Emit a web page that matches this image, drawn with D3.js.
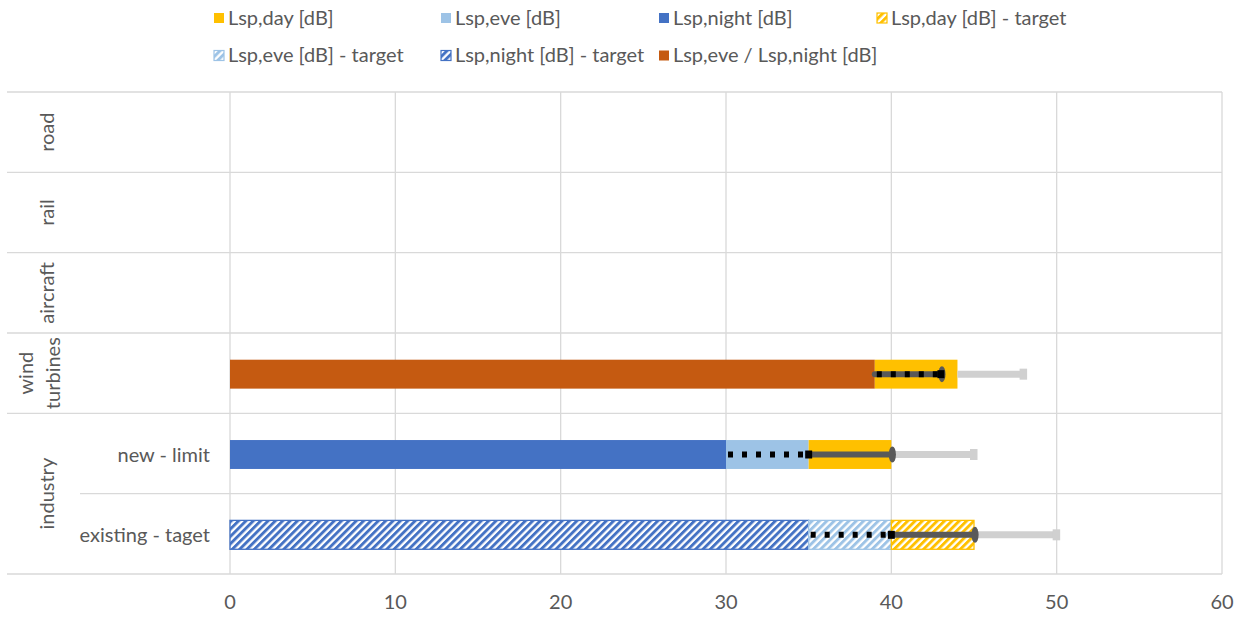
<!DOCTYPE html>
<html>
<head>
<meta charset="utf-8">
<script src="https://cdn.jsdelivr.net/npm/d3@7"></script>
<style>
  body { margin: 0; background: #fff; }
  text { font-family: Lato, "Open Sans", sans-serif; fill: #595959; font-size: 20px; }
</style>
</head>
<body>
<div id="chart"></div>
<script>
const groups = ['road', 'rail', 'aircraft', 'wind turbines', 'industry', 'industry'];
const subLabels = ['', '', '', '', 'new - limit', 'existing - taget'];

// stacked bar series (drawing order left to right)
const eveNight = [0, 0, 0, 39, 0, 0];
const night = [0, 0, 0, 0, 30, 0];
const nightTarget = [0, 0, 0, 0, 0, 35];
const eve = [0, 0, 0, 0, 5, 0];
const eveTarget = [0, 0, 0, 0, 0, 5];
const day = [0, 0, 0, 5, 5, 0];
const dayTarget = [0, 0, 0, 0, 0, 5];

// error lines [from, to]
const errDotted = [null, null, null, [39, 43], [30, 35], [35, 40]];
const errDark = [null, null, null, [39, 43], [35, 40], [40, 45]];
const errLight = [null, null, null, [44, 48], [40, 45], [45, 50]];

const xTicks = [0, 10, 20, 30, 40, 50, 60];

const legendRow1 = ['Lsp,day [dB]', 'Lsp,eve [dB]', 'Lsp,night [dB]', 'Lsp,day [dB] - target'];
const legendRow2 = ['Lsp,eve [dB] - target', 'Lsp,night [dB] - target', 'Lsp,eve / Lsp,night [dB]'];

const W = 1247, H = 619;
const plotLeft = 230, plotRight = 1222, plotTop = 92, plotBottom = 574;

const series = [
  { key: 'eveNight', values: eveNight, color: '#C55A11', hatch: false },
  { key: 'night', values: night, color: '#4472C4', hatch: false },
  { key: 'nightTarget', values: nightTarget, color: '#4472C4', hatch: true },
  { key: 'eve', values: eve, color: '#9DC3E6', hatch: false },
  { key: 'eveTarget', values: eveTarget, color: '#9DC3E6', hatch: true },
  { key: 'day', values: day, color: '#FFC000', hatch: false },
  { key: 'dayTarget', values: dayTarget, color: '#FFC000', hatch: true }
];

const table = groups.map((g, i) => {
  const row = { i };
  series.forEach(s => row[s.key] = s.values[i]);
  return row;
});

const stacked = d3.stack().keys(series.map(s => s.key))(table);

const x = d3.scaleLinear().domain([0, 60]).range([plotLeft, plotRight]);
const y = d3.scaleBand().domain(d3.range(groups.length)).range([plotTop, plotBottom]);

const svg = d3.select('#chart').append('svg')
  .attr('width', W).attr('height', H);

const defs = svg.append('defs');
const hp = 5.2;
series.filter(s => s.hatch).forEach(s => {
  const p = defs.append('pattern')
    .attr('id', 'hatch-' + s.key)
    .attr('patternUnits', 'userSpaceOnUse')
    .attr('width', hp).attr('height', hp)
    .attr('patternTransform', 'rotate(45)');
  p.append('rect').attr('width', hp).attr('height', hp).attr('fill', '#fff');
  p.append('rect').attr('width', 2.9).attr('height', hp).attr('fill', s.color);
});

// vertical gridlines
svg.append('g').selectAll('line')
  .data(xTicks)
  .join('line')
  .attr('x1', d => x(d)).attr('x2', d => x(d))
  .attr('y1', plotTop).attr('y2', plotBottom)
  .attr('stroke', '#D9D9D9').attr('stroke-width', 1.3);

// horizontal row lines
const rowLines = [];
groups.forEach((g, i) => {
  const sameAsPrev = i > 0 && groups[i - 1] === g;
  rowLines.push({ y: y(i), x1: sameAsPrev ? 80 : 7 });
});
rowLines.push({ y: plotBottom, x1: 7 });
svg.append('g').selectAll('line')
  .data(rowLines)
  .join('line')
  .attr('x1', d => d.x1).attr('x2', plotRight)
  .attr('y1', d => d.y).attr('y2', d => d.y)
  .attr('stroke', '#D9D9D9').attr('stroke-width', 1.3);

// bars
const barH = y.bandwidth() * 0.36;
const barY = i => y(i) + (y.bandwidth() - barH) / 2 + 1;
stacked.forEach((layer, li) => {
  const s = series[li];
  svg.append('g').selectAll('rect')
    .data(layer.filter(d => d[1] - d[0] > 0))
    .join('rect')
    .attr('x', d => x(d[0]))
    .attr('y', d => barY(d.data.i))
    .attr('width', d => x(d[1]) - x(d[0]))
    .attr('height', barH)
    .attr('fill', s.hatch ? `url(#hatch-${s.key})` : s.color)
    .attr('stroke', s.hatch ? s.color : 'none')
    .attr('stroke-width', 1.3);
});

const cy = i => barY(i) + barH / 2;

// light gray error bars
const lightRows = errLight.map((e, i) => ({ e, i })).filter(d => d.e);
const gLight = svg.append('g');
gLight.selectAll('line').data(lightRows).join('line')
  .attr('x1', d => x(d.e[0])).attr('x2', d => x(d.e[1]))
  .attr('y1', d => cy(d.i)).attr('y2', d => cy(d.i))
  .attr('stroke', '#D0D0D0').attr('stroke-width', 7);
gLight.selectAll('rect').data(lightRows).join('rect')
  .attr('x', d => x(d.e[1]) - 4).attr('y', d => cy(d.i) - 5.5)
  .attr('width', 7.5).attr('height', 11)
  .attr('fill', '#D0D0D0');

// dark gray error bars
const darkRows = errDark.map((e, i) => ({ e, i })).filter(d => d.e);
const gDark = svg.append('g');
gDark.selectAll('line').data(darkRows).join('line')
  .attr('x1', d => x(d.e[0])).attr('x2', d => x(d.e[1]))
  .attr('y1', d => cy(d.i)).attr('y2', d => cy(d.i))
  .attr('stroke', '#595959').attr('stroke-width', 6)
  .attr('stroke-linecap', 'round');
gDark.selectAll('ellipse').data(darkRows).join('ellipse')
  .attr('cx', d => x(d.e[1]) + 1).attr('cy', d => cy(d.i))
  .attr('rx', 3.6).attr('ry', 8)
  .attr('fill', '#595959');

// dotted black error bars
const dotRows = errDotted.map((e, i) => ({ e, i })).filter(d => d.e);
const gDot = svg.append('g');
gDot.selectAll('line').data(dotRows).join('line')
  .attr('x1', d => x(d.e[0]) + 2).attr('x2', d => x(d.e[1]))
  .attr('y1', d => cy(d.i)).attr('y2', d => cy(d.i))
  .attr('stroke', '#000').attr('stroke-width', 6)
  .attr('stroke-dasharray', '5,9');
gDot.selectAll('rect').data(dotRows).join('rect')
  .attr('x', d => x(d.e[1]) - 3.5).attr('y', d => cy(d.i) - 4)
  .attr('width', 7).attr('height', 8)
  .attr('fill', '#000');

// x axis labels
svg.append('g').selectAll('text')
  .data(xTicks)
  .join('text')
  .attr('x', d => x(d)).attr('y', 609)
  .attr('text-anchor', 'middle')
  .text(d => d);

// sub category labels
svg.append('g').selectAll('text')
  .data(subLabels.map((t, i) => ({ t, i })).filter(d => d.t))
  .join('text')
  .attr('x', 210).attr('y', d => y(d.i) + y.bandwidth() / 2 + 8)
  .attr('text-anchor', 'end')
  .text(d => d.t);

// group labels (rotated)
const groupSpans = [];
groups.forEach((g, i) => {
  const last = groupSpans[groupSpans.length - 1];
  if (last && last.name === g) last.end = i;
  else groupSpans.push({ name: g, start: i, end: i });
});
groupSpans.forEach(gs => {
  const cyG = (y(gs.start) + y(gs.end) + y.bandwidth()) / 2;
  const words = gs.name.split(' ');
  const t = svg.append('text')
    .attr('transform', `translate(${54 - (words.length - 1) * 21},${cyG}) rotate(-90)`)
    .attr('text-anchor', 'middle');
  words.forEach((w, k) => {
    t.append('tspan').attr('x', 0).attr('dy', k === 0 ? 0 : 27).text(w);
  });
});

// legend
const legendColors = [
  { color: '#FFC000', hatch: false },
  { color: '#9DC3E6', hatch: false },
  { color: '#4472C4', hatch: false },
  { color: '#FFC000', hatch: 'dayTarget' },
  { color: '#9DC3E6', hatch: 'eveTarget' },
  { color: '#4472C4', hatch: 'nightTarget' },
  { color: '#C55A11', hatch: false }
];
const legendItems = [
  ...legendRow1.map((t, k) => ({ t, x: [228, 455, 673, 891][k], y: 18 })),
  ...legendRow2.map((t, k) => ({ t, x: [228, 455, 673][k], y: 55.5 }))
];
const lg = svg.append('g').selectAll('g')
  .data(legendItems)
  .join('g')
  .attr('transform', d => `translate(${d.x},${d.y})`);
lg.append('rect')
  .attr('x', -14).attr('y', -5).attr('width', 10).attr('height', 10)
  .attr('fill', (d, k) => legendColors[k].hatch ? `url(#hatch-${legendColors[k].hatch})` : legendColors[k].color)
  .attr('stroke', (d, k) => legendColors[k].hatch ? legendColors[k].color : 'none')
  .attr('stroke-width', 1.2);
lg.append('text')
  .attr('x', 0).attr('y', 6.5)
  .text(d => d.t);
</script>
</body>
</html>
